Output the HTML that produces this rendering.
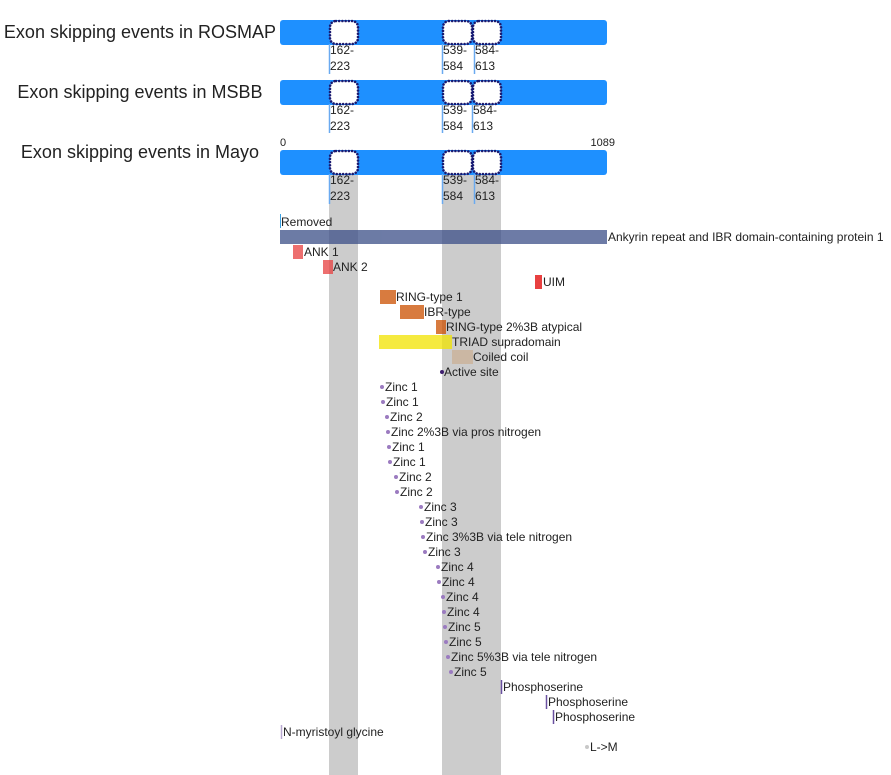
<!DOCTYPE html>
<html><head><meta charset="utf-8"><style>
html,body{margin:0;padding:0;background:#fff;width:891px;height:775px;overflow:hidden}
svg text{font-family:"Liberation Sans",Arial,sans-serif;fill:#222}
</style></head><body>
<svg width="891" height="775" xmlns="http://www.w3.org/2000/svg">
<g fill="#cccccc">
<rect x="329" y="175" width="29" height="600"/>
<rect x="442" y="175" width="59" height="600"/>
</g>
<g font-size="18" text-anchor="middle" style="fill:#000">
<text x="140" y="38">Exon skipping events in ROSMAP</text>
<text x="140" y="98">Exon skipping events in MSBB</text>
<text x="140" y="158">Exon skipping events in Mayo</text>
</g>
<text x="280" y="146" font-size="11">0</text>
<text x="615" y="146" font-size="11" text-anchor="end">1089</text>

<g fill="#1e90ff">
<rect x="280" y="20" width="327" height="25" rx="3"/>
<rect x="280" y="80" width="327" height="25" rx="3"/>
<rect x="280" y="150" width="327" height="25" rx="3"/>
</g>

<g fill="#fff" stroke="#191970" stroke-width="2.6" stroke-dasharray="0.01 3.2" stroke-linecap="round">
<rect x="330" y="21" width="28" height="23" rx="6"/>
<rect x="443" y="21" width="29" height="23" rx="6"/>
<rect x="473" y="21" width="28" height="23" rx="6"/>
<rect x="330" y="81" width="28" height="23" rx="6"/>
<rect x="443" y="81" width="29" height="23" rx="6"/>
<rect x="473" y="81" width="28" height="23" rx="6"/>
<rect x="330" y="151" width="28" height="23" rx="6"/>
<rect x="443" y="151" width="29" height="23" rx="6"/>
<rect x="473" y="151" width="28" height="23" rx="6"/>
</g>

<g stroke="#6aaaf0" stroke-width="1.5">
<line x1="329.5" y1="44" x2="329.5" y2="74"/><line x1="442.5" y1="44" x2="442.5" y2="74"/><line x1="474.5" y1="44" x2="474.5" y2="74"/>
<line x1="329.5" y1="104" x2="329.5" y2="133"/><line x1="442.5" y1="104" x2="442.5" y2="133"/><line x1="472.5" y1="104" x2="472.5" y2="133"/>
<line x1="329.5" y1="174" x2="329.5" y2="204"/><line x1="442.5" y1="174" x2="442.5" y2="204"/><line x1="474.5" y1="174" x2="474.5" y2="204"/>
</g>
<g font-size="12">
<text x="330" y="54">162-</text><text x="330" y="70">223</text>
<text x="443" y="54">539-</text><text x="443" y="70">584</text>
<text x="475" y="54">584-</text><text x="475" y="70">613</text>
<text x="330" y="114">162-</text><text x="330" y="130">223</text>
<text x="443" y="114">539-</text><text x="443" y="130">584</text>
<text x="473" y="114">584-</text><text x="473" y="130">613</text>
<text x="330" y="184">162-</text><text x="330" y="200">223</text>
<text x="443" y="184">539-</text><text x="443" y="200">584</text>
<text x="475" y="184">584-</text><text x="475" y="200">613</text>
</g>

<line x1="280.5" y1="214" x2="280.5" y2="228" stroke="#3aa0e0" stroke-width="1"/>
<text x="281" y="226" font-size="12">Removed</text>
<g opacity="0.75">
<rect x="280" y="230" width="327" height="14" fill="#3c4f88"/>
<rect x="293" y="245" width="10" height="14" fill="#e84040"/>
<rect x="323" y="260" width="10" height="14" fill="#e84040"/>
<rect x="535" y="275" width="7" height="14" fill="#e00000"/>
<rect x="380" y="290" width="16" height="14" fill="#cc4f00"/>
<rect x="400" y="305" width="24" height="14" fill="#cc4f00"/>
<rect x="436" y="320" width="10" height="14" fill="#cc4f00"/>
<rect x="379" y="335" width="73" height="14" fill="#f2e400"/>
<rect x="452" y="350" width="21" height="14" fill="#cbb196"/>
</g>
<g font-size="12">
<text x="608" y="241">Ankyrin repeat and IBR domain-containing protein 1</text>
<text x="304" y="256">ANK 1</text>
<text x="333" y="271">ANK 2</text>
<text x="543" y="286">UIM</text>
<text x="396" y="301">RING-type 1</text>
<text x="424" y="316">IBR-type</text>
<text x="446" y="331">RING-type 2%3B atypical</text>
<text x="452" y="346">TRIAD supradomain</text>
<text x="473" y="361">Coiled coil</text>
</g>
<circle cx="442" cy="372" r="2" fill="#402070"/><text x="444" y="376" font-size="12">Active site</text>

<g font-size="12">
<g fill="#9b7bc0">
<circle cx="382" cy="387" r="2"/><circle cx="383" cy="402" r="2"/><circle cx="387" cy="417" r="2"/><circle cx="388" cy="432" r="2"/>
<circle cx="389" cy="447" r="2"/><circle cx="390" cy="462" r="2"/><circle cx="396" cy="477" r="2"/><circle cx="397" cy="492" r="2"/>
<circle cx="421" cy="507" r="2"/><circle cx="422" cy="522" r="2"/><circle cx="423" cy="537" r="2"/><circle cx="425" cy="552" r="2"/>
<circle cx="438" cy="567" r="2"/><circle cx="439" cy="582" r="2"/><circle cx="443" cy="597" r="2"/><circle cx="444" cy="612" r="2"/>
<circle cx="445" cy="627" r="2"/><circle cx="446" cy="642" r="2"/><circle cx="448" cy="657" r="2"/><circle cx="451" cy="672" r="2"/>
</g>
<text x="385" y="391">Zinc 1</text><text x="386" y="406">Zinc 1</text><text x="390" y="421">Zinc 2</text><text x="391" y="436">Zinc 2%3B via pros nitrogen</text>
<text x="392" y="451">Zinc 1</text><text x="393" y="466">Zinc 1</text><text x="399" y="481">Zinc 2</text><text x="400" y="496">Zinc 2</text>
<text x="424" y="511">Zinc 3</text><text x="425" y="526">Zinc 3</text><text x="426" y="541">Zinc 3%3B via tele nitrogen</text><text x="428" y="556">Zinc 3</text>
<text x="441" y="571">Zinc 4</text><text x="442" y="586">Zinc 4</text><text x="446" y="601">Zinc 4</text><text x="447" y="616">Zinc 4</text>
<text x="448" y="631">Zinc 5</text><text x="449" y="646">Zinc 5</text><text x="451" y="661">Zinc 5%3B via tele nitrogen</text><text x="454" y="676">Zinc 5</text>
</g>
<g stroke="#6a50a0" stroke-width="1.5">
<line x1="501.5" y1="680" x2="501.5" y2="694"/><line x1="546.5" y1="695" x2="546.5" y2="709"/><line x1="553.5" y1="710" x2="553.5" y2="724"/>
</g>
<line x1="281.5" y1="725" x2="281.5" y2="739" stroke="#b8a8d0" stroke-width="1.5"/>
<g font-size="12">
<text x="503" y="691">Phosphoserine</text><text x="548" y="706">Phosphoserine</text><text x="555" y="721">Phosphoserine</text>
<text x="283" y="736">N-myristoyl glycine</text>
<circle cx="587" cy="747" r="2" fill="#c8c8c8"/><text x="590" y="751">L-&gt;M</text>
</g>
</svg>
</body></html>
